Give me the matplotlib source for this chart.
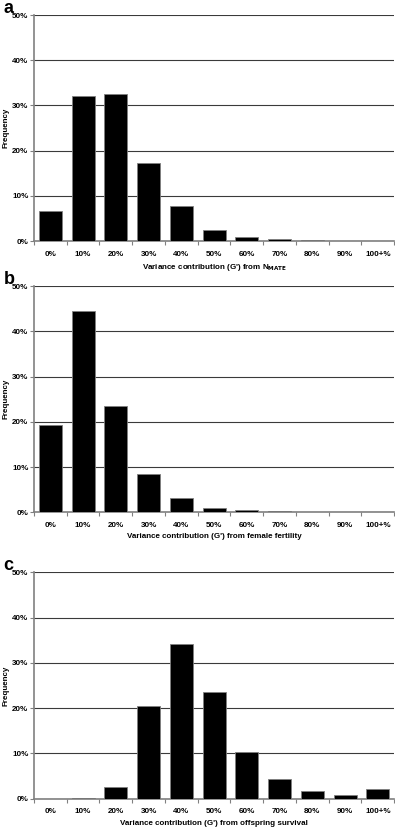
import numpy as np
import matplotlib.pyplot as plt
from matplotlib.ticker import FuncFormatter

plt.rcParams['font.family'] = ['Liberation Sans', 'DejaVu Sans']

categories = ["0%", "10%", "20%", "30%", "40%", "50%", "60%", "70%", "80%", "90%", "100+%"]
freq_nmate = [6.6, 32.1, 32.5, 17.3, 7.7, 2.4, 0.9, 0.4, 0.15, 0.05, 0.02]
freq_fertility = [19.2, 44.4, 23.5, 8.5, 3.2, 0.9, 0.5, 0.2, 0.03, 0.01, 0.0]
freq_survival = [0.0, 0.2, 2.6, 20.4, 34.2, 23.6, 10.3, 4.4, 1.8, 0.8, 2.1]

panels = [
    ("a", freq_nmate, "Variance contribution (G') from N$_{\\mathbf{MATE}}$"),
    ("b", freq_fertility, "Variance contribution (G') from female fertility"),
    ("c", freq_survival, "Variance contribution (G') from offspring survival"),
]

# axes boxes in figure fractions [left, bottom, width, height]
boxes = [
    [0.086, 0.7096, 0.912, 0.2723],
    [0.086, 0.3827, 0.912, 0.2727],
    [0.086, 0.0377, 0.912, 0.2728],
]

fs = 5.8
fig = plt.figure(figsize=(3.95, 8.3), dpi=100)
x = np.arange(len(categories))

for (letter, vals, xlabel), box in zip(panels, boxes):
    ax = fig.add_axes(box)
    ax.bar(x, vals, width=0.7, color="black", edgecolor="#808080", linewidth=0.6, zorder=3)
    ax.set_xlim(-0.5, len(categories) - 0.5)
    ax.set_ylim(0, 50)
    ax.set_yticks(np.arange(0, 51, 10))
    ax.yaxis.set_major_formatter(FuncFormatter(lambda v, p: f"{v:.0f}%"))
    ax.grid(axis="y", color="#3a3a3a", linewidth=0.8, zorder=0)
    ax.set_xticks(x)
    ax.set_xticklabels(categories, fontweight="bold")
    for lab in ax.get_yticklabels():
        lab.set_fontweight("bold")
    ax.set_xticks(np.arange(-0.5, len(categories)), minor=True)
    ax.tick_params(axis="x", which="major", length=0, labelsize=fs, pad=7)
    ax.tick_params(axis="x", which="minor", length=3, width=0.8, color="#808080", direction="out")
    ax.tick_params(axis="y", length=3, width=0.8, color="#808080", labelsize=fs, pad=1)
    for side in ("top", "right"):
        ax.spines[side].set_visible(False)
    for side in ("left", "bottom"):
        ax.spines[side].set_color("#808080")
        ax.spines[side].set_linewidth(1.2)
    ax.set_xlabel(xlabel, fontsize=fs, fontweight="bold", labelpad=3)
    ax.set_ylabel("Frequency", fontsize=fs, fontweight="bold", labelpad=2)
    ax.text(-0.085, 1.03, letter, transform=ax.transAxes, fontsize=13,
            fontweight="bold", ha="left", va="center")

fig.savefig("out.png", dpi=100)
